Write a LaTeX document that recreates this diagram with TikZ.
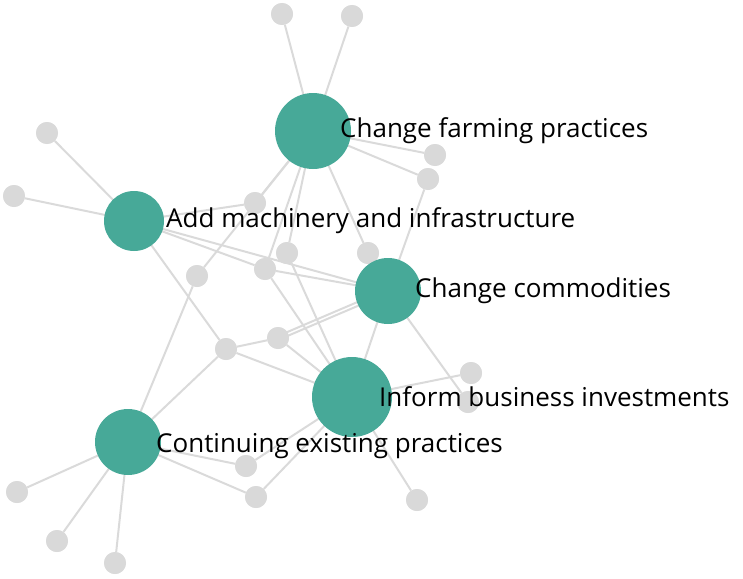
\documentclass[tikz,border=0pt]{standalone}
\usepackage{fontspec}
\setmainfont{Open Sans}
\begin{document}
\begin{tikzpicture}[x=1pt,y=-1pt,
  big/.style={circle,fill={rgb,255:red,71;green,169;blue,152},inner sep=0pt,minimum size=#1},
  sm/.style={circle,fill={rgb,255:red,217;green,217;blue,217},inner sep=0pt,minimum size=22pt},
  lab/.style={anchor=west,inner sep=0pt,font=\fontsize{26}{28}\selectfont,text=black},
  ed/.style={draw={rgb,255:red,218;green,218;blue,218},line width=2pt}]
\useasboundingbox (0,0) rectangle (743,578);
\coordinate (F) at (313,131);
\coordinate (A) at (134,221);
\coordinate (C) at (388,291);
\coordinate (I) at (352,397);
\coordinate (E) at (128,442);
\node[sm] (t1) at (282,14) {};
\node[sm] (t2) at (352,16) {};
\node[sm] (s1) at (435,155) {};
\node[sm] (s2) at (428,179) {};
\node[sm] (s3) at (255,203) {};
\node[sm] (s4) at (287,253) {};
\node[sm] (s5) at (265,269) {};
\node[sm] (s6) at (368,253) {};
\node[sm] (s7) at (197,276) {};
\node[sm] (s8) at (226,349) {};
\node[sm] (s9) at (278,338) {};
\node[sm] (s10) at (471,373) {};
\node[sm] (s11) at (468,402) {};
\node[sm] (s12) at (246,466) {};
\node[sm] (s13) at (256,497) {};
\node[sm] (s14) at (417,500) {};
\node[sm] (l1) at (47,133) {};
\node[sm] (l2) at (14,196) {};
\node[sm] (b1) at (17,492) {};
\node[sm] (b2) at (57,541) {};
\node[sm] (b3) at (115,563) {};
\foreach \a/\b in {F/t1,F/t2,F/s1,F/s2,F/s3,F/s4,F/s5,F/s6,F/s7,s2/C,
  A/l1,A/l2,A/s3,A/s5,A/C,A/s8,s5/C,s5/I,s4/I,s9/s8,s9/I,s8/I,s8/E,s7/E,
  C/I,C/s11,I/s10,I/s13,I/s12,I/s14,E/s12,E/s13,E/b1,E/b2,E/b3,s6/C}
  \draw[ed] (\a) -- (\b);
\draw[ed] ([yshift=-2pt]s9.center) -- ([yshift=-2pt]C);
\draw[ed] ([yshift=2pt]s9.center) -- ([yshift=2pt]C);
\foreach \n in {t1,t2,s1,s2,s3,s4,s5,s6,s7,s8,s9,s10,s11,s12,s13,s14,l1,l2,b1,b2,b3}
  \node[sm] at (\n) {};
\node[big=76pt] (F) at (F) {};
\node[big=60pt] (A) at (A) {};
\node[big=66pt] (C) at (C) {};
\node[big=80pt] (I) at (I) {};
\node[big=66pt] (E) at (E) {};
\node[lab] (Fl) at (340,131) {Change farming practices};
\node[lab] (Al) at (166,221) {Add machinery and infrastructure};
\node[lab] (Cl) at (415,291) {Change commodities};
\node[lab] (Il) at (379,397) {Inform business investments};
\node[lab] (El) at (156,446) {Continuing existing practices};
\end{tikzpicture}
\end{document}
